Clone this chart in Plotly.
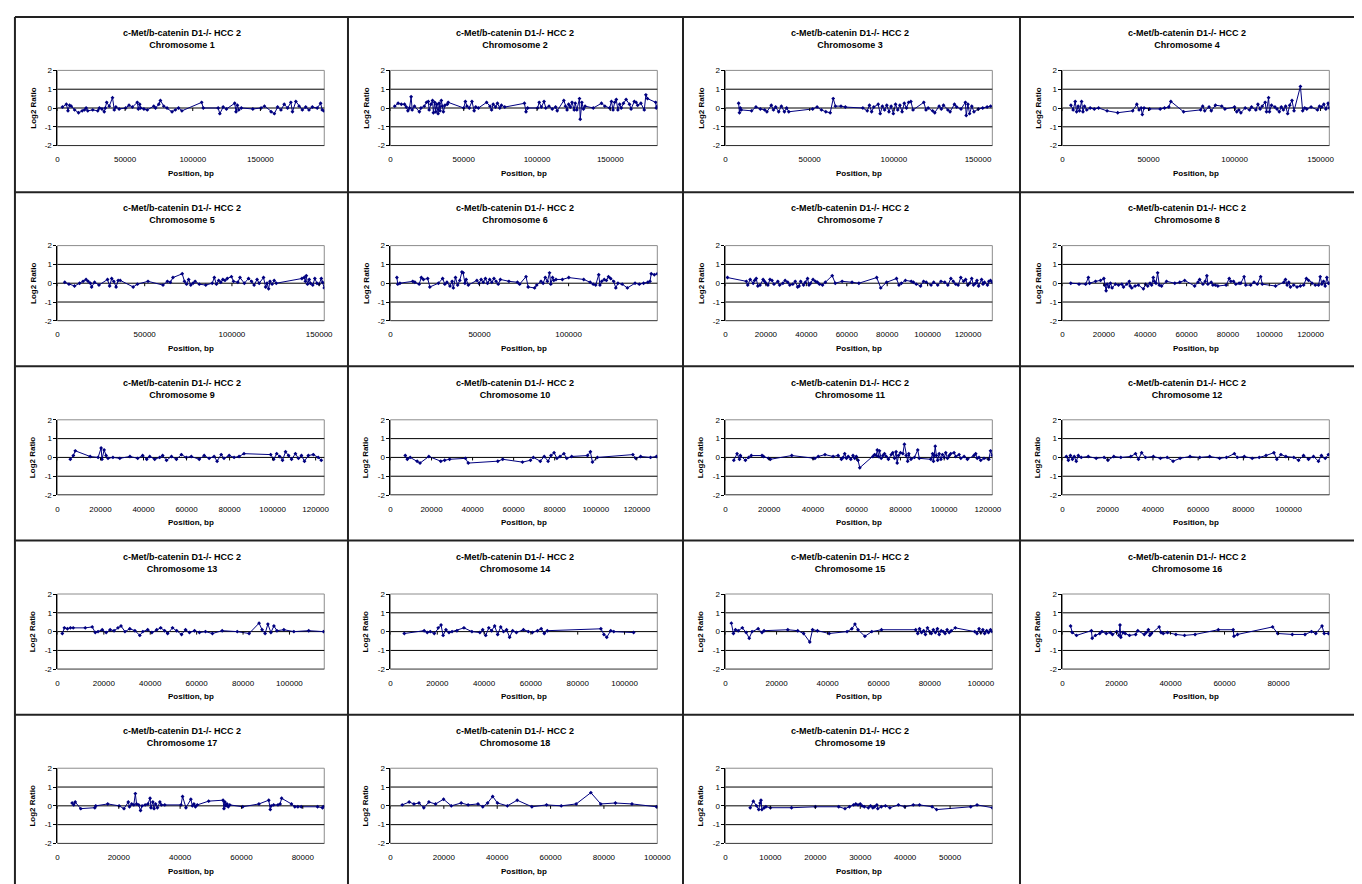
import plotly.graph_objects as go

TITLE = "c-Met/b-catenin D1-/- HCC 2"
CHROMS = [str(i) for i in range(1, 20)]

# x-axis maximum (position) and tick step for each chromosome panel
X_MAX = [197200, 182100, 158500, 155100, 152900, 149800, 132000, 129000, 124000, 130000,
         122000, 118000, 115000, 114000, 104500, 98800, 87000, 100000, 59400]
X_STEP = [50000, 50000, 50000, 50000, 50000, 50000, 20000, 20000, 20000, 20000,
          20000, 20000, 20000, 20000, 20000, 20000, 20000, 20000, 10000]
Y_TICKS = [-2, -1, 0, 1, 2]
Y_TEXT = ["-2", "-1", "0", "1", "2"]
GRID_LEVELS = [-2, -1, 0, 1]

chr1_pos = [3.7, 6.6, 7.8, 9.0, 10.2, 12.7, 15.6, 18.3, 20.0, 21.2, 22.4, 26.1, 29.8, 31.0, 32.9, 34.6, 35.4, 36.4, 38.3, 40.7, 42.0, 43.2, 45.6, 50.5, 52.9, 55.4, 59.0, 59.8, 60.8, 61.5, 63.9, 66.4, 71.2, 72.5, 74.9, 76.1, 78.6, 81.0, 84.7, 87.1, 89.5, 92.0, 106.6, 107.8, 118.8, 120.0, 122.5, 124.9, 131.0, 132.0, 133.0, 134.0, 135.9, 144.4, 150.5, 153.0, 157.9, 160.3, 162.7, 165.2, 167.6, 170.1, 172.5, 173.7, 176.2, 178.6, 181.0, 183.5, 185.9, 188.4, 192.0, 194.5, 195.7, 196.9]
chr1_val = [0.05, 0.2, -0.15, 0.15, 0.1, -0.1, -0.25, -0.15, -0.1, 0.0, -0.15, -0.1, -0.15, 0.0, -0.05, -0.2, 0.0, 0.3, 0.1, 0.55, -0.1, 0.05, -0.05, 0.0, 0.15, 0.05, 0.3, -0.05, 0.2, 0.0, -0.05, -0.1, 0.1, 0.0, 0.2, 0.4, 0.1, 0.0, -0.2, -0.1, 0.0, -0.15, 0.3, 0.0, 0.0, -0.3, 0.05, -0.05, 0.25, -0.2, 0.15, -0.1, 0.0, -0.05, 0.0, 0.1, -0.2, -0.3, 0.05, -0.1, 0.2, 0.0, 0.3, -0.2, 0.35, 0.1, -0.1, 0.05, -0.1, 0.05, 0.0, 0.25, -0.1, -0.15]

chr2_pos = [2.9, 5.2, 7.4, 9.6, 10.8, 11.9, 13.0, 14.1, 14.8, 16.4, 19.7, 20.8, 23.1, 24.6, 25.8, 26.4, 27.6, 28.7, 29.3, 30.2, 30.9, 31.6, 32.5, 33.2, 33.8, 34.7, 35.4, 36.1, 37.2, 38.8, 39.4, 50.0, 51.1, 52.2, 53.8, 55.6, 57.1, 58.2, 60.0, 65.6, 67.9, 69.0, 70.1, 71.7, 73.0, 74.6, 75.7, 78.0, 91.4, 92.5, 93.6, 100.4, 101.5, 103.0, 104.8, 106.0, 108.2, 110.4, 112.7, 113.8, 118.3, 119.4, 120.5, 121.6, 122.8, 123.9, 125.4, 126.1, 127.2, 129.0, 129.5, 130.6, 131.7, 132.8, 138.4, 144.0, 146.3, 149.6, 150.8, 151.9, 153.0, 154.1, 155.2, 156.4, 157.5, 159.0, 160.8, 163.1, 164.2, 166.4, 167.6, 168.7, 170.9, 173.2, 174.3, 175.4, 181.0, 181.4, 182.1]
chr2_val = [0.1, 0.25, 0.2, 0.2, 0.05, -0.15, 0.0, 0.6, -0.1, 0.1, -0.2, 0.0, 0.1, 0.3, 0.35, -0.1, 0.2, 0.4, -0.25, 0.3, -0.2, 0.2, -0.3, 0.25, -0.15, 0.4, 0.1, -0.2, 0.15, 0.2, 0.3, 0.0, 0.35, 0.1, 0.0, 0.35, -0.15, 0.05, 0.0, 0.3, 0.1, -0.1, 0.2, 0.05, 0.25, 0.0, 0.15, 0.05, 0.25, -0.2, 0.0, 0.0, 0.3, 0.05, 0.35, 0.0, 0.1, -0.05, 0.05, -0.15, 0.4, 0.1, -0.1, 0.2, 0.05, 0.3, -0.1, 0.25, -0.1, 0.5, -0.6, 0.3, -0.05, 0.1, 0.0, 0.25, 0.1, 0.0, 0.35, -0.1, 0.3, 0.45, -0.1, 0.2, 0.0, 0.25, 0.45, 0.2, -0.05, 0.35, 0.3, 0.15, 0.25, -0.1, 0.7, 0.5, 0.3, 0.0, 0.1]

chr3_pos = [7.8, 8.3, 8.8, 9.3, 15.5, 18.1, 20.7, 23.3, 24.6, 27.2, 28.5, 29.8, 31.6, 33.2, 35.0, 36.3, 37.6, 51.8, 54.4, 57.0, 59.6, 62.2, 64.0, 65.3, 68.6, 71.2, 81.6, 84.2, 85.5, 86.8, 88.1, 90.7, 91.9, 93.2, 94.5, 95.8, 97.1, 98.4, 99.7, 101.0, 102.3, 103.6, 104.9, 106.2, 107.5, 108.8, 110.1, 111.4, 117.8, 119.1, 120.4, 123.0, 124.3, 126.9, 128.2, 129.5, 132.1, 133.4, 136.0, 137.3, 139.9, 142.5, 143.0, 144.0, 145.0, 146.3, 147.6, 150.2, 152.8, 155.4, 157.5]
chr3_val = [0.25, -0.25, 0.0, -0.1, -0.15, 0.05, -0.05, -0.1, -0.2, 0.15, -0.1, 0.05, -0.2, 0.1, -0.2, 0.0, -0.2, -0.05, 0.05, -0.1, -0.2, -0.25, 0.5, 0.1, 0.1, 0.05, 0.0, -0.15, 0.15, -0.2, 0.05, 0.2, -0.3, 0.1, -0.1, 0.15, -0.2, 0.1, -0.3, 0.2, -0.1, 0.15, -0.2, 0.25, 0.0, 0.3, 0.35, -0.1, 0.3, -0.1, 0.0, -0.15, -0.25, 0.1, -0.05, 0.15, -0.1, -0.2, 0.2, 0.05, -0.05, 0.3, -0.4, 0.2, -0.3, 0.1, -0.2, -0.05, 0.0, 0.05, 0.1]

chr4_pos = [4.9, 6.2, 7.4, 8.2, 9.1, 9.9, 11.1, 11.9, 12.8, 14.1, 16.1, 18.5, 21.0, 25.9, 32.1, 40.8, 43.2, 44.5, 45.7, 46.4, 47.4, 50.6, 56.8, 59.3, 61.8, 63.0, 70.4, 80.3, 81.5, 82.7, 85.2, 86.5, 88.9, 92.6, 94.4, 100.0, 101.3, 102.5, 103.7, 106.2, 108.7, 109.9, 112.4, 113.6, 114.9, 116.1, 117.8, 118.6, 119.8, 120.3, 121.5, 123.5, 124.7, 126.0, 127.2, 128.4, 129.7, 130.9, 132.1, 133.4, 134.6, 138.3, 139.6, 140.8, 142.0, 144.5, 148.2, 149.4, 150.7, 151.9, 153.1, 154.4, 155.1]
chr4_val = [0.15, -0.1, 0.35, -0.2, 0.1, -0.15, 0.35, -0.2, 0.1, -0.1, 0.0, -0.05, 0.0, -0.15, -0.25, -0.15, 0.2, -0.1, 0.0, -0.35, 0.0, -0.05, -0.05, 0.0, 0.05, 0.35, -0.2, -0.1, 0.1, -0.15, 0.05, -0.15, 0.15, 0.1, -0.05, 0.05, -0.2, -0.1, -0.25, 0.0, -0.1, 0.05, -0.1, 0.2, -0.05, 0.1, 0.3, -0.2, 0.55, -0.2, 0.15, 0.05, -0.05, -0.2, 0.05, -0.1, 0.1, -0.3, 0.15, 0.4, -0.15, 1.15, -0.15, 0.0, -0.05, 0.05, -0.1, 0.1, 0.05, 0.2, -0.05, 0.25, 0.0]

chr5_pos = [4.2, 6.6, 9.8, 12.7, 14.7, 16.4, 17.6, 18.9, 19.6, 21.3, 23.8, 28.7, 29.9, 31.1, 32.3, 33.6, 34.8, 36.0, 43.4, 45.8, 51.9, 60.5, 63.0, 64.7, 66.2, 71.5, 72.8, 74.0, 75.2, 76.4, 77.7, 78.9, 81.3, 85.0, 88.7, 89.9, 91.1, 92.4, 93.6, 94.8, 96.0, 97.3, 99.7, 100.9, 103.4, 104.6, 107.1, 109.5, 111.2, 112.7, 114.4, 115.6, 118.1, 119.3, 120.1, 121.0, 121.8, 123.0, 124.2, 125.4, 140.1, 141.4, 142.1, 142.6, 143.3, 144.3, 145.0, 146.3, 147.5, 148.7, 149.9, 151.2, 151.9, 152.9]
chr5_val = [0.05, -0.05, -0.15, 0.0, 0.1, 0.2, 0.1, 0.0, -0.2, 0.05, -0.1, 0.2, -0.15, 0.25, 0.1, -0.2, 0.15, 0.15, -0.2, -0.05, 0.1, -0.1, 0.1, 0.05, 0.3, 0.5, 0.1, -0.05, 0.2, -0.1, 0.0, 0.1, -0.05, -0.1, 0.0, 0.3, -0.05, 0.15, 0.05, 0.2, 0.15, 0.25, 0.35, 0.1, 0.05, 0.3, 0.0, 0.25, 0.1, -0.1, 0.2, 0.0, 0.3, -0.2, 0.0, -0.3, 0.1, -0.05, 0.15, 0.0, 0.25, 0.3, 0.1, 0.4, -0.05, 0.2, 0.0, -0.1, 0.25, 0.0, -0.05, 0.25, 0.05, -0.25]

chr6_pos = [3.6, 4.1, 5.3, 12.5, 13.7, 16.1, 17.3, 18.5, 20.9, 22.1, 26.9, 29.3, 30.5, 31.7, 33.4, 34.6, 35.3, 36.5, 37.7, 38.9, 40.1, 40.8, 41.8, 42.5, 43.7, 48.5, 49.7, 50.9, 52.1, 53.3, 54.5, 55.7, 56.9, 58.1, 59.3, 60.5, 61.7, 66.5, 71.3, 72.5, 76.1, 77.3, 80.9, 82.1, 84.5, 85.7, 86.9, 88.1, 89.3, 90.0, 91.0, 91.7, 92.9, 96.5, 100.1, 108.5, 112.1, 113.8, 115.2, 116.9, 117.6, 118.6, 120.0, 121.2, 122.4, 123.6, 125.3, 126.5, 127.7, 130.1, 133.0, 137.3, 139.7, 142.1, 144.5, 145.7, 146.4, 148.1, 149.8]
chr6_val = [0.3, -0.05, 0.0, 0.1, 0.05, -0.05, 0.3, 0.2, 0.25, -0.2, 0.0, 0.25, -0.05, 0.05, -0.15, 0.1, -0.25, 0.3, -0.1, 0.15, 0.6, 0.55, 0.0, 0.2, -0.1, 0.15, 0.0, 0.2, 0.05, 0.25, 0.0, 0.2, 0.05, 0.25, 0.1, -0.05, 0.2, 0.1, 0.05, -0.05, 0.35, -0.2, -0.25, -0.1, 0.1, 0.0, 0.3, 0.1, 0.55, -0.05, 0.3, 0.15, 0.2, 0.2, 0.3, 0.2, 0.05, -0.05, -0.1, 0.45, -0.1, 0.1, 0.2, 0.15, 0.35, 0.25, 0.1, -0.25, 0.0, -0.05, -0.25, 0.0, -0.05, 0.0, 0.05, 0.1, 0.5, 0.45, 0.5]

chr7_pos = [1.0, 10.3, 11.0, 12.2, 13.7, 14.4, 15.2, 16.0, 17.1, 18.6, 19.3, 20.0, 21.0, 22.0, 23.0, 24.0, 25.9, 26.8, 28.4, 29.5, 30.8, 31.8, 33.3, 34.5, 35.7, 36.4, 37.2, 38.6, 39.5, 40.6, 41.3, 42.1, 43.3, 44.5, 45.5, 46.5, 48.0, 49.4, 52.8, 54.3, 57.7, 62.6, 66.0, 74.8, 76.8, 79.7, 84.6, 85.8, 87.0, 89.0, 91.9, 93.0, 94.4, 96.5, 98.0, 99.3, 101.7, 103.0, 105.0, 106.6, 108.5, 110.0, 111.5, 112.7, 113.9, 115.1, 116.4, 117.8, 118.8, 119.8, 120.8, 121.8, 122.7, 123.7, 124.4, 125.2, 126.7, 127.4, 128.1, 129.6, 130.3, 131.1, 132.0]
chr7_val = [0.3, 0.1, -0.1, 0.2, 0.0, 0.15, 0.25, -0.15, -0.1, 0.2, 0.1, 0.0, -0.1, 0.2, 0.15, -0.05, 0.1, -0.1, 0.0, 0.15, 0.05, -0.1, -0.05, 0.1, -0.2, -0.15, 0.1, -0.1, 0.05, 0.25, -0.1, 0.0, 0.2, 0.1, 0.05, -0.05, -0.1, 0.05, 0.4, 0.0, 0.1, 0.05, 0.0, 0.3, -0.25, 0.05, 0.25, -0.1, 0.0, 0.15, 0.1, 0.05, -0.05, -0.15, 0.1, 0.05, -0.1, 0.05, -0.1, 0.1, 0.05, -0.1, 0.25, 0.1, -0.05, -0.1, 0.3, 0.1, 0.2, -0.1, 0.0, 0.25, -0.1, 0.0, 0.15, -0.15, 0.2, -0.05, 0.05, -0.1, 0.1, 0.15, 0.05]

chr8_pos = [4.0, 8.0, 11.2, 12.5, 13.1, 16.0, 18.4, 20.0, 20.4, 21.1, 21.6, 22.4, 23.2, 24.0, 25.6, 27.1, 28.7, 29.5, 31.1, 32.3, 32.7, 33.5, 35.1, 36.7, 39.1, 40.2, 41.2, 42.3, 43.1, 43.9, 44.4, 45.2, 46.0, 46.8, 47.9, 50.3, 54.3, 56.7, 59.1, 63.9, 65.5, 66.3, 67.9, 69.0, 69.8, 70.3, 71.9, 72.7, 73.9, 75.1, 79.1, 80.6, 81.4, 82.7, 83.8, 85.4, 86.2, 87.8, 88.6, 91.0, 92.6, 94.2, 95.8, 96.6, 103.0, 107.0, 107.8, 108.6, 109.4, 110.2, 111.8, 113.4, 115.0, 116.6, 117.9, 119.0, 120.6, 122.2, 123.8, 124.6, 125.4, 126.2, 127.0, 127.8, 128.6, 129.0]
chr8_val = [0.0, -0.05, -0.05, 0.3, 0.0, 0.1, 0.15, 0.25, -0.1, -0.4, -0.05, -0.2, 0.0, -0.25, -0.05, -0.1, -0.05, -0.2, -0.05, 0.1, -0.15, -0.25, -0.15, -0.1, -0.3, -0.05, -0.15, 0.0, -0.1, 0.3, 0.1, 0.0, 0.55, -0.1, -0.15, 0.1, 0.0, 0.05, 0.15, -0.15, 0.05, 0.2, -0.05, 0.1, 0.4, -0.05, 0.05, -0.1, -0.1, -0.15, -0.1, 0.25, 0.1, 0.1, -0.05, 0.0, 0.0, 0.35, -0.1, -0.1, 0.05, -0.05, 0.35, -0.05, -0.15, 0.05, 0.2, -0.1, 0.05, -0.2, -0.1, -0.2, -0.15, -0.1, 0.25, 0.15, 0.0, -0.1, -0.1, 0.35, -0.05, 0.1, -0.15, 0.3, 0.0, 0.0]

chr9_pos = [6.0, 7.4, 8.3, 15.2, 18.9, 20.3, 20.7, 21.7, 22.6, 23.5, 25.8, 29.0, 33.7, 37.3, 39.6, 41.5, 42.9, 45.2, 47.5, 48.9, 50.7, 53.0, 55.3, 57.6, 59.9, 62.2, 65.9, 68.2, 70.5, 72.8, 74.2, 76.1, 77.4, 79.8, 82.1, 84.4, 86.7, 99.1, 100.5, 101.9, 103.3, 104.6, 106.0, 107.4, 108.8, 110.6, 112.0, 113.4, 114.8, 116.6, 118.9, 121.2, 122.6]
chr9_val = [-0.1, 0.1, 0.35, 0.05, 0.0, 0.5, -0.1, 0.4, 0.1, -0.05, 0.0, -0.05, 0.05, -0.05, 0.1, -0.1, 0.05, -0.1, 0.0, 0.1, -0.15, 0.05, -0.1, 0.15, 0.0, 0.05, -0.1, 0.1, -0.05, 0.05, -0.2, 0.15, -0.05, 0.1, 0.0, 0.05, 0.2, 0.15, -0.1, 0.2, 0.05, -0.15, 0.3, 0.1, -0.1, 0.2, -0.05, 0.1, -0.2, 0.1, 0.15, 0.0, -0.15]

chr10_pos = [7.2, 8.2, 9.6, 13.0, 14.4, 18.7, 24.5, 26.4, 28.8, 36.5, 37.9, 52.3, 54.7, 64.3, 68.2, 69.6, 73.0, 74.9, 76.8, 78.2, 79.7, 81.1, 82.6, 84.5, 85.9, 88.3, 96.0, 97.4, 98.4, 100.8, 118.1, 119.5, 121.9, 126.7, 129.6]
chr10_val = [0.1, -0.1, 0.0, -0.2, -0.3, 0.05, -0.2, -0.15, -0.1, -0.05, -0.3, -0.2, -0.1, -0.25, -0.15, 0.0, -0.2, 0.05, -0.2, 0.1, 0.25, -0.05, 0.05, 0.2, -0.05, 0.05, 0.1, 0.3, -0.25, 0.0, 0.15, -0.05, 0.05, 0.0, 0.05]

chr11_pos = [3.8, 5.3, 6.4, 6.8, 9.1, 10.6, 11.8, 16.7, 17.4, 19.7, 20.5, 30.3, 40.1, 40.9, 42.4, 45.5, 49.2, 51.5, 53.0, 53.8, 54.5, 55.3, 56.1, 57.3, 58.3, 59.1, 59.8, 60.6, 61.4, 67.4, 68.2, 68.9, 69.4, 70.0, 70.4, 71.2, 72.0, 72.7, 73.5, 74.5, 75.8, 76.5, 77.3, 78.0, 78.5, 79.1, 80.0, 81.1, 81.8, 82.6, 83.3, 83.8, 84.8, 86.4, 87.9, 88.6, 93.9, 94.7, 95.1, 95.4, 95.9, 96.4, 97.0, 97.7, 98.5, 99.2, 100.0, 100.7, 101.5, 102.3, 103.0, 104.5, 105.3, 106.8, 107.6, 109.1, 110.6, 113.6, 114.4, 115.1, 115.9, 116.7, 118.2, 120.4, 121.2, 122.0]
chr11_val = [-0.15, 0.2, -0.1, 0.1, -0.15, 0.0, 0.1, 0.1, 0.05, -0.05, -0.1, 0.1, -0.05, -0.05, 0.05, 0.15, 0.05, 0.1, -0.1, 0.0, 0.2, -0.05, 0.05, -0.1, 0.1, -0.05, 0.05, -0.15, -0.55, 0.05, 0.15, 0.1, 0.4, 0.05, 0.35, -0.05, 0.1, 0.2, 0.05, -0.1, 0.15, 0.25, -0.05, 0.3, -0.3, 0.1, 0.25, 0.2, 0.7, 0.1, -0.2, 0.2, -0.1, 0.0, 0.4, -0.05, -0.1, 0.2, -0.2, 0.1, 0.6, 0.1, -0.15, 0.2, -0.1, 0.15, 0.0, 0.25, -0.05, 0.1, 0.2, 0.25, 0.05, 0.15, -0.05, 0.05, -0.1, 0.1, 0.2, -0.05, 0.0, -0.15, -0.05, -0.1, 0.35, 0.1]

chr12_pos = [1.7, 2.6, 3.5, 4.4, 5.2, 6.1, 7.0, 8.3, 11.4, 14.9, 18.4, 20.1, 22.7, 25.8, 30.2, 32.3, 33.6, 35.0, 36.7, 40.2, 43.3, 46.3, 48.9, 52.0, 56.4, 60.7, 65.1, 69.5, 72.5, 76.0, 77.3, 80.4, 83.9, 87.0, 90.0, 93.5, 94.8, 96.6, 98.8, 102.3, 104.4, 106.6, 108.8, 111.0, 113.2, 114.5, 116.2, 117.6]
chr12_val = [0.05, -0.15, 0.1, -0.1, 0.05, -0.2, 0.1, 0.0, 0.05, -0.05, 0.0, -0.15, 0.05, 0.0, 0.05, 0.2, -0.1, 0.25, 0.0, 0.05, -0.05, 0.0, -0.2, -0.05, 0.05, 0.0, 0.05, -0.05, 0.0, 0.2, 0.0, 0.05, -0.05, 0.0, 0.1, 0.25, -0.1, 0.15, 0.05, 0.0, -0.15, 0.1, -0.1, 0.05, -0.2, 0.1, -0.05, 0.15]

chr13_pos = [2.1, 3.0, 4.3, 5.6, 6.8, 12.0, 15.0, 16.3, 17.5, 19.3, 21.0, 22.7, 24.4, 26.1, 27.4, 29.1, 31.2, 33.4, 35.5, 36.8, 38.9, 40.7, 42.8, 44.5, 46.2, 47.5, 49.6, 51.4, 53.5, 55.2, 56.9, 59.1, 61.2, 63.8, 66.8, 71.0, 77.5, 82.6, 86.9, 88.2, 89.5, 90.7, 92.0, 93.3, 94.6, 97.6, 101.9, 108.3, 114.7]
chr13_val = [-0.1, 0.2, 0.15, 0.2, 0.2, 0.2, 0.25, -0.05, 0.0, 0.1, -0.05, 0.1, 0.05, 0.2, 0.3, 0.0, 0.15, 0.05, -0.2, 0.0, 0.1, -0.05, 0.1, 0.2, 0.05, -0.1, 0.2, 0.05, -0.15, 0.1, -0.05, 0.05, -0.05, 0.0, -0.1, 0.05, 0.0, -0.1, 0.45, 0.1, -0.1, 0.4, -0.05, 0.3, 0.05, 0.1, 0.0, 0.05, 0.0]

chr14_pos = [5.9, 14.4, 15.7, 17.0, 18.7, 20.4, 21.6, 22.5, 23.7, 25.0, 26.3, 28.4, 31.4, 34.8, 38.2, 39.4, 40.7, 42.0, 43.2, 44.5, 45.8, 47.1, 48.3, 49.6, 50.9, 52.2, 53.8, 56.8, 58.9, 60.6, 62.8, 64.4, 65.7, 67.0, 89.9, 91.2, 92.4, 94.1, 95.4, 103.9]
chr14_val = [-0.1, 0.05, -0.05, 0.0, -0.1, 0.2, 0.35, -0.2, 0.1, -0.05, 0.0, 0.05, 0.2, 0.0, -0.05, 0.1, -0.2, 0.2, 0.05, 0.3, -0.15, 0.25, 0.0, 0.1, -0.3, 0.05, -0.05, 0.1, 0.0, -0.05, 0.05, 0.15, -0.1, 0.05, 0.15, -0.15, -0.3, 0.05, 0.0, -0.05]

chr15_pos = [2.3, 3.1, 3.9, 5.0, 6.6, 8.1, 9.3, 10.4, 12.8, 14.3, 15.1, 24.4, 28.3, 30.6, 33.0, 34.1, 36.0, 40.6, 47.6, 49.5, 50.7, 51.9, 54.6, 57.3, 61.1, 74.5, 75.3, 76.0, 76.8, 77.6, 78.3, 79.1, 79.9, 80.6, 81.4, 82.2, 83.0, 83.7, 84.5, 85.3, 86.0, 86.8, 87.6, 88.4, 90.0, 97.6, 98.5, 99.3, 100.0, 100.8, 101.5, 102.3, 103.0, 103.8, 104.4]
chr15_val = [0.45, -0.1, 0.1, 0.05, 0.2, -0.05, -0.35, 0.0, 0.15, -0.05, 0.05, 0.1, 0.05, -0.1, -0.55, 0.1, 0.05, -0.1, 0.0, 0.15, 0.4, 0.1, -0.25, 0.0, 0.1, 0.1, -0.1, 0.15, -0.05, 0.05, -0.15, 0.2, 0.0, -0.1, 0.1, -0.05, 0.15, -0.15, 0.05, 0.0, -0.1, 0.1, -0.05, 0.05, 0.2, 0.0, -0.1, 0.15, -0.05, 0.1, -0.1, 0.05, -0.05, 0.1, 0.0]

chr16_pos = [3.0, 3.6, 5.2, 10.7, 11.0, 12.2, 13.8, 14.6, 16.2, 17.7, 18.5, 20.1, 20.9, 21.3, 21.6, 22.4, 23.2, 24.8, 27.1, 27.9, 30.3, 31.0, 31.8, 32.3, 32.9, 35.8, 36.5, 37.3, 38.9, 42.0, 45.2, 49.1, 57.7, 63.2, 63.5, 64.8, 77.8, 79.7, 85.1, 89.8, 92.2, 93.8, 96.1, 96.9, 98.5]
chr16_val = [0.3, -0.05, -0.2, 0.05, -0.35, -0.2, -0.1, 0.0, -0.1, -0.05, -0.15, 0.0, -0.2, 0.35, -0.3, -0.05, -0.1, -0.2, -0.15, 0.05, -0.15, -0.05, 0.1, -0.2, -0.1, 0.25, -0.05, -0.1, -0.05, -0.15, -0.2, -0.15, 0.1, 0.1, -0.25, -0.15, 0.25, -0.1, -0.15, -0.15, 0.0, -0.1, 0.3, -0.1, -0.1]

chr17_pos = [4.8, 5.3, 5.8, 7.6, 12.2, 12.5, 16.4, 20.1, 21.7, 23.1, 23.5, 24.2, 24.9, 25.4, 25.8, 26.5, 27.1, 27.6, 28.6, 29.5, 30.2, 30.5, 31.1, 31.5, 32.0, 32.6, 33.4, 33.9, 35.0, 40.3, 40.8, 41.9, 43.5, 44.0, 44.5, 45.0, 45.6, 49.3, 54.0, 54.3, 54.6, 54.9, 55.3, 55.7, 56.2, 60.4, 65.7, 68.9, 69.4, 69.7, 70.5, 71.9, 72.6, 73.1, 76.3, 77.4, 78.4, 79.5, 84.8, 86.4, 86.7]
chr17_val = [0.15, 0.05, 0.2, -0.15, -0.1, 0.0, 0.1, 0.0, -0.15, 0.2, -0.05, 0.1, 0.05, 0.65, 0.1, 0.05, -0.25, 0.0, 0.05, 0.1, 0.4, -0.1, 0.2, -0.15, 0.1, -0.1, 0.2, 0.05, 0.05, 0.05, 0.5, -0.1, 0.35, 0.0, 0.1, -0.05, 0.05, 0.25, 0.3, -0.15, 0.2, 0.0, 0.1, -0.05, 0.05, -0.05, 0.1, 0.3, -0.2, 0.0, 0.05, 0.05, 0.1, 0.4, 0.1, -0.05, -0.05, -0.05, -0.05, -0.1, -0.05]

chr18_pos = [4.4, 7.0, 8.8, 10.7, 12.5, 14.4, 16.9, 19.9, 22.8, 26.5, 29.1, 32.8, 34.6, 36.4, 38.3, 40.1, 43.8, 47.5, 53.0, 58.5, 64.0, 69.6, 75.1, 78.8, 84.3, 90.5, 99.7]
chr18_val = [0.05, 0.2, 0.1, 0.15, -0.1, 0.2, 0.1, 0.35, 0.0, 0.15, 0.05, 0.1, -0.05, 0.15, 0.5, 0.15, 0.0, 0.3, -0.05, 0.05, 0.0, 0.1, 0.7, 0.1, 0.15, 0.1, -0.05]

chr19_pos = [5.5, 6.2, 6.9, 7.4, 7.7, 7.9, 8.1, 8.6, 9.0, 10.0, 14.7, 20.0, 25.2, 26.6, 27.6, 28.5, 29.0, 29.5, 30.0, 30.4, 30.9, 31.8, 32.3, 32.8, 33.2, 33.7, 33.9, 34.7, 35.6, 36.6, 38.5, 39.9, 41.8, 43.2, 46.0, 47.0, 54.6, 56.0, 59.4]
chr19_val = [-0.1, 0.25, 0.0, -0.2, 0.15, 0.3, -0.2, -0.1, -0.05, -0.1, -0.1, -0.05, -0.05, -0.15, -0.05, 0.05, 0.1, 0.05, 0.1, 0.0, -0.05, -0.1, 0.0, -0.1, -0.05, 0.05, -0.15, -0.05, 0.0, -0.1, 0.05, -0.05, 0.05, 0.05, -0.05, -0.2, -0.05, 0.05, -0.1]

POSITIONS = [chr1_pos, chr2_pos, chr3_pos, chr4_pos, chr5_pos, chr6_pos, chr7_pos, chr8_pos, chr9_pos, chr10_pos,
             chr11_pos, chr12_pos, chr13_pos, chr14_pos, chr15_pos, chr16_pos, chr17_pos, chr18_pos, chr19_pos]
VALUES = [chr1_val, chr2_val, chr3_val, chr4_val, chr5_val, chr6_val, chr7_val, chr8_val, chr9_val, chr10_val,
          chr11_val, chr12_val, chr13_val, chr14_val, chr15_val, chr16_val, chr17_val, chr18_val, chr19_val]

# ---------------- layout geometry (pixels) ----------------
W, H = 1362, 884
COL_LEFT = [5, 342, 681, 1022]
ROW_TOP = [5, 182, 358, 534, 710]
CELL_W = 338
P_L, P_R, P_T, P_B = 43, 313, 54, 130
FONT = "Liberation Sans, Arial, sans-serif"
NAVY = "#000080"


def px(x):
    return x / W


def py(y):
    return 1 - y / H


fig = go.Figure()
layout = dict(width=W, height=H, margin=dict(l=0, r=0, t=0, b=0),
              paper_bgcolor="white", plot_bgcolor="white", showlegend=False,
              font=dict(family=FONT, color="black"))
shapes = []
annotations = []

for i, name in enumerate(CHROMS):
    r, c = divmod(i, 4)
    L, T = COL_LEFT[c], ROW_TOP[r]
    n = i + 1
    xa = "xaxis" if n == 1 else f"xaxis{n}"
    ya = "yaxis" if n == 1 else f"yaxis{n}"
    xr = "x" if n == 1 else f"x{n}"
    yr = "y" if n == 1 else f"y{n}"
    xmax = X_MAX[i]
    step = X_STEP[i]
    ticks = list(range(0, xmax + 1, step))
    layout[xa] = dict(domain=[px(L + P_L), px(L + P_R)], range=[0, xmax], anchor=yr,
                      tickvals=ticks, ticktext=[str(t) for t in ticks],
                      ticks="outside", ticklen=6, tickcolor="rgba(0,0,0,0)",
                      showline=False, showgrid=False, zeroline=False,
                      tickfont=dict(size=8, family=FONT, color="black"), fixedrange=True)
    layout[ya] = dict(domain=[py(T + P_B), py(T + P_T)], range=[-2, 2], anchor=xr,
                      tickvals=Y_TICKS, ticktext=Y_TEXT, ticks="outside", ticklen=3,
                      tickcolor="black", showline=True, linecolor="black", linewidth=1,
                      showgrid=False, zeroline=False,
                      tickfont=dict(size=8, family=FONT, color="black"), fixedrange=True)
    fig.add_trace(go.Scatter(x=[p * 1000 for p in POSITIONS[i]], y=VALUES[i],
                             mode="lines+markers", xaxis=xr, yaxis=yr,
                             line=dict(color=NAVY, width=1),
                             marker=dict(color=NAVY, size=3, symbol="diamond"),
                             hoverinfo="x+y"))
    # plot-area border (gray) and gridlines (black)
    shapes.append(dict(type="rect", xref=f"{xr} domain", yref=f"{yr} domain",
                       x0=0, x1=1, y0=0, y1=1, line=dict(color="#8c8c8c", width=1), layer="below"))
    for g in GRID_LEVELS:
        shapes.append(dict(type="line", xref=f"{xr} domain", yref=yr, x0=0, x1=1, y0=g, y1=g,
                           line=dict(color="black", width=1), layer="below"))
    for t in ticks:
        shapes.append(dict(type="line", xref=xr, yref=yr, x0=t, x1=t, y0=0, y1=-0.16,
                           line=dict(color="black", width=1)))
    annotations.append(dict(xref="paper", yref="paper", x=px(L + CELL_W / 2), y=py(T + 22.5),
                            text=f"<b>{TITLE}</b><br><b>Chromosome {name}</b>", showarrow=False,
                            xanchor="center", yanchor="middle", font=dict(size=9, family=FONT, color="black")))
    annotations.append(dict(xref="paper", yref="paper", x=px(L + 18), y=py(T + (P_T + P_B) / 2),
                            text="<b>Log2 Ratio</b>", textangle=-90, showarrow=False,
                            xanchor="center", yanchor="middle", font=dict(size=8, family=FONT, color="black")))
    annotations.append(dict(xref="paper", yref="paper", x=px(L + (P_L + P_R) / 2), y=py(T + 158),
                            text="<b>Position, bp</b>", showarrow=False,
                            xanchor="center", yanchor="middle", font=dict(size=8, family=FONT, color="black")))

# cell frame lines
for x in COL_LEFT:
    shapes.append(dict(type="line", xref="paper", yref="paper", x0=px(x), x1=px(x), y0=py(ROW_TOP[0]), y1=0,
                       line=dict(color="#222222", width=2)))
for y in ROW_TOP:
    shapes.append(dict(type="line", xref="paper", yref="paper", x0=px(COL_LEFT[0]), x1=1, y0=py(y), y1=py(y),
                       line=dict(color="#222222", width=2)))

layout["shapes"] = shapes
layout["annotations"] = annotations
fig.update_layout(**layout)
fig.write_html("out.html")
